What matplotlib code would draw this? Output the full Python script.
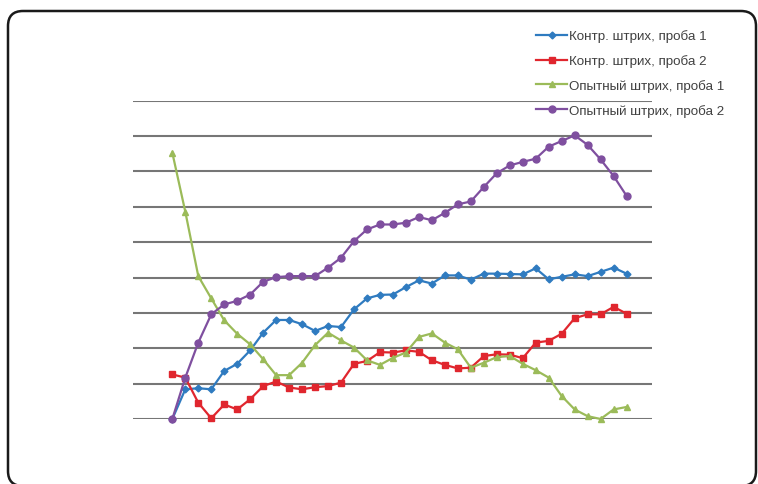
import matplotlib
matplotlib.use("Agg")
from matplotlib import pyplot as plt
from matplotlib.patches import FancyBboxPatch

# данные (36 точек)
x = list(range(36))

kontr_1 = [0.0, 0.84, 0.87, 0.84, 1.36, 1.56, 1.94, 2.44, 2.80, 2.80,
           2.68, 2.49, 2.63, 2.60, 3.10, 3.41, 3.51, 3.52, 3.73, 3.92,
           3.83, 4.06, 4.06, 3.94, 4.11, 4.11, 4.10, 4.09, 4.26, 3.95,
           4.02, 4.09, 4.04, 4.16, 4.28, 4.11]
kontr_2 = [1.26, 1.17, 0.46, 0.02, 0.41, 0.27, 0.56, 0.93, 1.06, 0.89,
           0.84, 0.90, 0.93, 1.03, 1.56, 1.64, 1.89, 1.88, 1.94, 1.90,
           1.66, 1.53, 1.43, 1.45, 1.78, 1.83, 1.82, 1.72, 2.16, 2.21,
           2.41, 2.85, 2.96, 2.96, 3.17, 2.98]
opyt_1 = [7.53, 5.86, 4.04, 3.41, 2.79, 2.41, 2.11, 1.69, 1.24, 1.24,
          1.59, 2.09, 2.44, 2.22, 2.02, 1.66, 1.53, 1.73, 1.88, 2.32,
          2.42, 2.16, 1.97, 1.45, 1.59, 1.75, 1.78, 1.56, 1.38, 1.17,
          0.65, 0.27, 0.08, 0.0, 0.27, 0.34]
opyt_2 = [0.0, 1.17, 2.16, 2.96, 3.24, 3.34, 3.52, 3.88, 4.01, 4.04,
          4.04, 4.04, 4.28, 4.56, 5.03, 5.36, 5.50, 5.50, 5.55, 5.71,
          5.62, 5.83, 6.07, 6.15, 6.56, 6.95, 7.17, 7.27, 7.36, 7.70,
          7.86, 8.02, 7.75, 7.34, 6.87, 6.31]

names = ["Контр. штрих, проба 1", "Контр. штрих, проба 2",
         "Опытный штрих, проба 1", "Опытный штрих, проба 2"]

fig = plt.figure(figsize=(7.58, 4.85), dpi=100)
ax = fig.add_axes([133 / 758, 65 / 485, 519 / 758, 318.3 / 485])

ax.plot(x, kontr_1, color="#2f7bc0", marker="D", markersize=3.5, lw=1.6, label=names[0], clip_on=False)
ax.plot(x, kontr_2, color="#e0262e", marker="s", markersize=4.5, lw=1.6, label=names[1], clip_on=False)
ax.plot(x, opyt_1, color="#9bbb59", marker="^", markersize=4.5, lw=1.6, label=names[2], clip_on=False)
ax.plot(x, opyt_2, color="#7f4f9f", marker="o", markersize=5, lw=1.6, label=names[3], clip_on=False)

ax.set_xlim(-3.03, 36.96)
ax.set_ylim(0, 9)
ax.set_yticks(range(10))
ax.set_xticks([])
ax.grid(axis="y", color="#767676", lw=1.5)
ax.set_axisbelow(True)
ax.tick_params(left=False, labelleft=False)
for s in ax.spines.values():
    s.set_visible(False)

fig.legend(loc="upper left", bbox_to_anchor=(531 / 758, 1 - 25 / 485), frameon=False,
           prop={"family": "Liberation Sans", "size": 9.6}, labelcolor="#404040",
           handlelength=2.3, handletextpad=0.15, labelspacing=0.9, borderaxespad=0)

# рамка со скруглёнными углами
frame = FancyBboxPatch((0.08, -0.02), 7.48, 4.75, boxstyle="round,pad=0,rounding_size=0.15",
                       transform=fig.dpi_scale_trans, fill=False, ec="#1a1a1a", lw=1.8)
fig.patches.append(frame)

fig.savefig("out.png", dpi=100)
